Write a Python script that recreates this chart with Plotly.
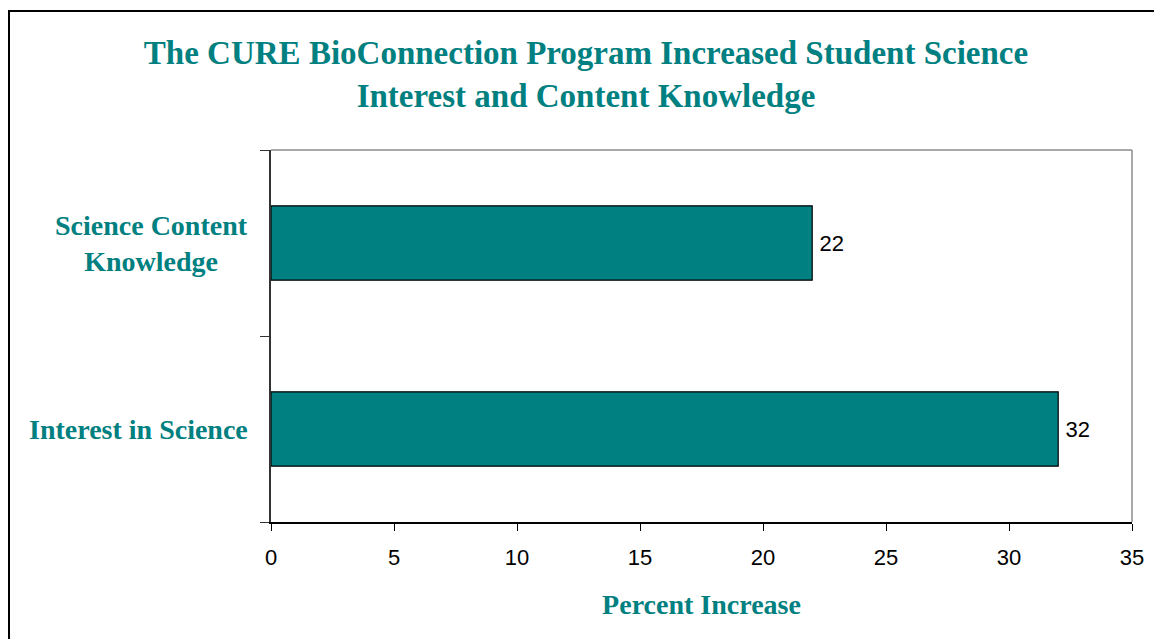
import plotly.graph_objects as go

categories = ["Interest in Science", "Science Content Knowledge"]
category_labels = ["Interest in Science", "Science Content<br>Knowledge"]
values = [32, 22]
x_ticks = [0, 5, 10, 15, 20, 25, 30, 35]
title_text = "The CURE BioConnection Program Increased Student Science<br>Interest and Content Knowledge"
x_title = "Percent Increase"

TEAL = "#008080"
SERIF = "Liberation Serif, Times New Roman, serif"
SANS = "Liberation Sans, Arial, sans-serif"

W, H = 1154, 639
L, R, T, B = 271, 22, 150, 117
pw, ph = W - L - R, H - T - B

fig = go.Figure()
fig.add_trace(go.Bar(
    y=categories, x=values, orientation="h",
    marker=dict(color=TEAL, line=dict(color="black", width=1.2)),
    texttemplate="\u2009%{x}", textposition="outside",
    textfont=dict(family=SANS, size=22, color="black"),
    constraintext="none",
    cliponaxis=False, width=0.4,
))

annotations = []
for c, lab in zip(categories, category_labels):
    annotations.append(dict(
        x=0, xref="paper", y=c, yref="y", text=lab, showarrow=False,
        xanchor="right", yanchor="middle", align="center", xshift=-21,
        font=dict(family=SERIF, size=28, color=TEAL, weight="bold"),
    ))

shapes = [
    # outer frame (left and top visible)
    dict(type="rect", xref="paper", yref="paper",
         x0=(9 - L) / pw, x1=(W + 20 - L) / pw,
         y0=(T + ph - (H + 20)) / ph, y1=(T + ph - 11) / ph,
         line=dict(color="black", width=2), layer="below"),
    # plot area grey top & right borders
    dict(type="line", xref="paper", yref="paper", x0=0, x1=1, y0=1, y1=1,
         line=dict(color="#8c8c8c", width=1.5), layer="below"),
    dict(type="line", xref="paper", yref="paper", x0=1, x1=1, y0=0, y1=1,
         line=dict(color="#8c8c8c", width=1.5), layer="below"),
]

fig.update_layout(
    width=W, height=H,
    margin=dict(l=L, r=R, t=T, b=B, autoexpand=False),
    paper_bgcolor="white", plot_bgcolor="white",
    showlegend=False,
    title=dict(text=title_text, x=586 / W, xref="container", xanchor="center",
               y=1 - 64 / H, yref="container", yanchor="top",
               font=dict(family=SERIF, size=33, color=TEAL, weight="bold")),
    xaxis=dict(range=[0, 35], tickvals=x_ticks, ticks="outside", ticklen=7,
               tickcolor="black", showline=True, linecolor="black", linewidth=1.5,
               showgrid=False, zeroline=False,
               tickfont=dict(family=SANS, size=22, color="black"),
               ticklabelstandoff=8,
               title=dict(text=x_title, standoff=25,
                          font=dict(family=SERIF, size=28, color=TEAL, weight="bold"))),
    yaxis=dict(categoryorder="array", categoryarray=categories,
               tickson="boundaries", ticks="outside", ticklen=9, tickcolor="#333333",
               showticklabels=False, showline=True, linecolor="#333333", linewidth=1.5,
               showgrid=False, zeroline=False, range=[-0.5, 1.5]),
    annotations=annotations,
    shapes=shapes,
    bargap=0.6,
)

fig.write_html("out.html", config={"displayModeBar": False},
               post_script="document.body.style.margin='0';")
